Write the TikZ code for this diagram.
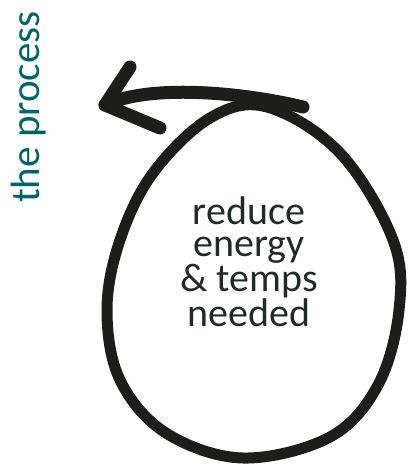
\documentclass[tikz,border=0pt]{standalone}
\usepackage{fontspec}
\setmainfont{Carlito}
\definecolor{PTeal}{HTML}{00666B}
\definecolor{PInk}{HTML}{1D1D1B}
\definecolor{PText}{HTML}{222A28}

\begin{document}
\begin{tikzpicture}[
  x=1pt, y=-1pt,
  loopline/.style={draw=PInk, line width=11pt, line cap=round, line join=round},
  arrowline/.style={draw=PInk, line width=13pt, line cap=round, line join=round},
  sidetext/.style={font=\fontsize{41}{41}\selectfont, text=PTeal, rotate=90, inner sep=0pt},
  eggtext/.style={font=\fontsize{40}{32}\selectfont, text=PText, align=center, inner sep=0pt},
]
\useasboundingbox (0,0) rectangle (408,465);
\node[sidetext, anchor=base] (title) at (39,107) {the process};
\node[eggtext] (goal) at (249,262) {reduce\\energy\\\& temps\\needed};
% the loop
\draw[loopline] plot[smooth cycle, tension=0.6] coordinates {
  (267,107) (340,153) (393,240) (399,310) (378,385) (330,437) (243,458)
  (166,433) (120,380) (107,310) (120,240) (153,173) (210,118)};
% the arrow on top
\coordinate (tail) at (303,107);
\coordinate (tip) at (105,105);
\coordinate (barbup) at (130,67);
\coordinate (barbdown) at (160,128);
\draw[arrowline] (tail) .. controls (240,92) and (150,84) .. (tip);
\draw[arrowline] (barbup) -- (tip) -- (barbdown);
\end{tikzpicture}
\end{document}
